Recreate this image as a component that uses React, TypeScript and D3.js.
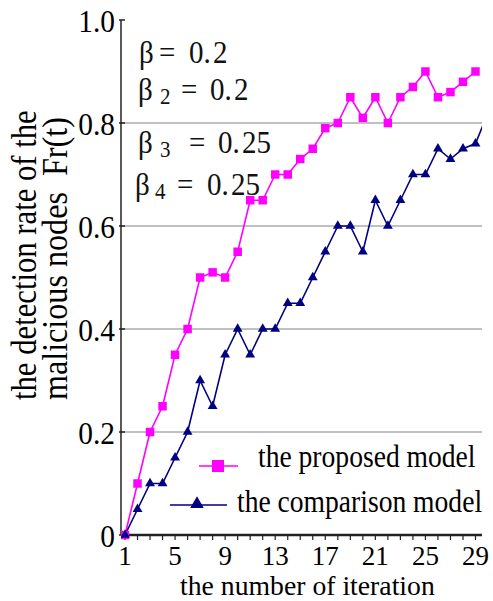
import * as d3 from 'd3';
import { useEffect, useRef } from 'react';

// iteration index for each point (the 30th point is cut off by the plot edge)
const iterations = [1, 2, 3, 4, 5, 6, 7, 8, 9, 10, 11, 12, 13, 14, 15, 16, 17, 18, 19, 20, 21, 22, 23, 24, 25, 26, 27, 28, 29, 30];
const proposed = [0, 0.1, 0.2, 0.25, 0.35, 0.4, 0.5, 0.51, 0.5, 0.55, 0.65, 0.65, 0.7, 0.7, 0.73, 0.75, 0.79, 0.8, 0.85, 0.81, 0.85, 0.8, 0.85, 0.87, 0.9, 0.85, 0.86, 0.88, 0.9];
const comparison = [0, 0.05, 0.1, 0.1, 0.15, 0.2, 0.3, 0.25, 0.35, 0.4, 0.35, 0.4, 0.4, 0.45, 0.45, 0.5, 0.55, 0.6, 0.6, 0.55, 0.65, 0.6, 0.65, 0.7, 0.7, 0.75, 0.73, 0.75, 0.76, 0.82];
const xTicks = [1, 5, 9, 13, 17, 21, 25, 29];
const yTicks = [0, 0.2, 0.4, 0.6, 0.8, 1.0];
const seriesNames = ['the proposed model', 'the comparison model'];
const betaSubs = ['', '2', '3', '4'];
const betaValues = ['0.2', '0.2', '0.25', '0.25'];

const FONT = "'Liberation Serif', 'DejaVu Serif', serif";
const PINK = '#ff00ff';
const NAVY = '#000080';

export default function App() {
    const ref = useRef<HTMLDivElement>(null);

    useEffect(() => {
        document.body.style.margin = '0';
        drawChart();
    }, []);

    function drawChart() {
        const root = d3.select(ref.current);
        root.select('svg').remove();

        const svg = root.append('svg')
            .attr('width', 493)
            .attr('height', 601)
            .attr('font-family', FONT)
            .style('display', 'block')
            .style('background', '#fff');

        const left = 121, right = 482, top = 20, bottom = 535;

        const x = d3.scaleLinear().domain([1, 29]).range([125, 475.5]);
        const y = d3.scaleLinear().domain([0, 1]).range([bottom, top]);

        svg.append('clipPath').attr('id', 'plot-clip')
            .append('rect')
            .attr('x', left).attr('y', 0)
            .attr('width', right - left).attr('height', bottom + 10);

        // gridlines
        svg.append('g')
            .selectAll('line')
            .data(yTicks.filter(d => d > 0 && d < 1))
            .enter().append('line')
            .attr('x1', left).attr('x2', right)
            .attr('y1', d => y(d)).attr('y2', d => y(d))
            .attr('stroke', '#c0c0c0').attr('stroke-width', 2);

        // y axis
        svg.append('line')
            .attr('x1', left).attr('x2', left)
            .attr('y1', top).attr('y2', bottom)
            .attr('stroke', '#222').attr('stroke-width', 1.5);
        svg.append('g')
            .selectAll('line')
            .data(yTicks)
            .enter().append('line')
            .attr('x1', left - 2).attr('x2', left + 4)
            .attr('y1', d => y(d)).attr('y2', d => y(d))
            .attr('stroke', '#222').attr('stroke-width', 1.5);
        svg.append('g')
            .selectAll('text')
            .data(yTicks)
            .enter().append('text')
            .attr('transform', d => `translate(115,${y(d) + 12}) scale(0.92,1)`)
            .attr('text-anchor', 'end')
            .attr('font-size', 32)
            .text(d => d === 0 ? '0' : d.toFixed(1));

        // x axis
        svg.append('line')
            .attr('x1', left).attr('x2', right)
            .attr('y1', bottom).attr('y2', bottom)
            .attr('stroke', '#222').attr('stroke-width', 2.5);
        svg.append('g')
            .selectAll('line')
            .data(iterations.slice(0, 29))
            .enter().append('line')
            .attr('x1', d => x(d)).attr('x2', d => x(d))
            .attr('y1', bottom).attr('y2', bottom + 5)
            .attr('stroke', '#222').attr('stroke-width', 1.2);
        svg.append('g')
            .selectAll('text')
            .data(xTicks)
            .enter().append('text')
            .attr('x', d => x(d))
            .attr('y', 564.5)
            .attr('text-anchor', 'middle')
            .attr('font-size', 27)
            .text(d => d);

        // axis titles
        svg.append('text')
            .attr('transform', 'translate(180,595) scale(0.99,1)')
            .attr('font-size', 28)
            .text('the number of iteration');
        svg.append('text')
            .attr('transform', 'translate(36,400) rotate(-90) scale(0.853,1)')
            .attr('font-size', 36)
            .text('the detection rate of the');
        svg.append('text')
            .attr('transform', 'translate(67,400) rotate(-90) scale(0.893,1)')
            .attr('font-size', 36)
            .attr('xml:space', 'preserve')
            .style('white-space', 'pre')
            .text('malicious nodes  Fr(t)');

        // series
        const plot = svg.append('g').attr('clip-path', 'url(#plot-clip)');
        const line = d3.line<number>()
            .x((_, i) => x(iterations[i]))
            .y(d => y(d));

        plot.append('path')
            .datum(proposed)
            .attr('d', line)
            .attr('fill', 'none')
            .attr('stroke', PINK)
            .attr('stroke-width', 1.6);
        plot.append('path')
            .datum(comparison)
            .attr('d', line)
            .attr('fill', 'none')
            .attr('stroke', NAVY)
            .attr('stroke-width', 1.6);

        const square = d3.symbol(d3.symbolSquare, 72)();
        const triangle = d3.symbol(d3.symbolTriangle, 42)();

        plot.append('g')
            .selectAll('path')
            .data(proposed)
            .enter().append('path')
            .attr('d', square)
            .attr('transform', (d, i) => `translate(${x(iterations[i])},${y(d)})`)
            .attr('fill', PINK);
        plot.append('g')
            .selectAll('path')
            .data(comparison)
            .enter().append('path')
            .attr('d', triangle)
            .attr('transform', (d, i) => `translate(${x(iterations[i])},${y(d)})`)
            .attr('fill', NAVY);

        // annotation: beta parameters
        const rows = [
            { base: 63, bx: 139, sx: 0, ex: 159, vx: 189 },
            { base: 100, bx: 138, sx: 160, ex: 181, vx: 210 },
            { base: 153, bx: 138, sx: 160, ex: 189, vx: 218 },
            { base: 195, bx: 135, sx: 155, ex: 177, vx: 207 },
        ];
        const note = svg.append('g').attr('fill', '#111').attr('font-size', 29);
        rows.forEach((r, i) => {
            const g = note.append('g').attr('transform', `translate(0,${r.base}) scale(1,1.08)`);
            g.append('text').attr('x', r.bx).attr('y', 0).text('β');
            if (betaSubs[i]) {
                g.append('text').attr('x', r.sx).attr('y', 4)
                    .attr('font-size', 21).text(betaSubs[i]);
            }
            g.append('text').attr('x', r.ex).attr('y', 0).text('=');
            const [whole, frac] = betaValues[i].split('.');
            g.append('text').attr('x', r.vx).attr('y', 0).text(whole + '.');
            g.append('text').attr('x', r.vx + 24).attr('y', 0).text(frac);
        });

        // legend
        const legend = svg.append('g');
        legend.append('line')
            .attr('x1', 199).attr('x2', 238)
            .attr('y1', 466).attr('y2', 466)
            .attr('stroke', PINK).attr('stroke-width', 1.6);
        legend.append('path')
            .attr('d', d3.symbol(d3.symbolSquare, 144)())
            .attr('transform', 'translate(218,466)')
            .attr('fill', PINK);
        legend.append('line')
            .attr('x1', 170).attr('x2', 227)
            .attr('y1', 505).attr('y2', 505)
            .attr('stroke', NAVY).attr('stroke-width', 1.6);
        legend.append('path')
            .attr('d', d3.symbol(d3.symbolTriangle, 80)())
            .attr('transform', 'translate(197,504)')
            .attr('fill', NAVY);
        legend.selectAll('text')
            .data(seriesNames)
            .enter().append('text')
            .attr('transform', (d, i) => i === 0 ? 'translate(258,467) scale(0.89,1)' : 'translate(237,512) scale(0.89,1)')
            .attr('font-size', 31)
            .text(d => d);
    }

    return (<div ref={ref} id="chart-container" />);
}
